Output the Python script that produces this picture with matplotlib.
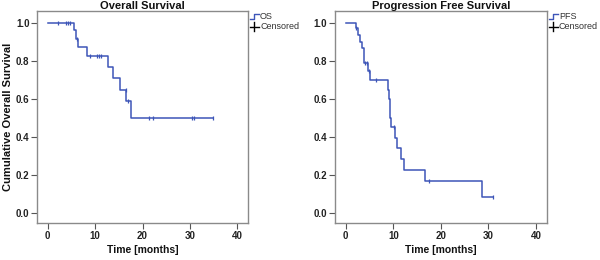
import matplotlib
matplotlib.use("Agg")
import matplotlib.pyplot as plt
import numpy as np

plt.rcParams['font.family'] = ['Liberation Sans', 'DejaVu Sans']

# ---- data ----
os_times = [0, 5.6, 5.9, 6.4, 8.3, 12.7, 13.8, 15.2, 16.6, 17.5]
os_surv = [1.0, 0.965, 0.917, 0.874, 0.829, 0.772, 0.711, 0.649, 0.593, 0.503]
os_end = 34.9
os_cens_t = [2.2, 3.8, 4.3, 4.7, 6.2, 9.0, 10.4, 10.8, 11.2, 16.5, 16.95, 21.4, 22.3, 30.5, 30.9, 34.9]

pfs_times = [0, 2.1, 2.5, 2.9, 3.4, 3.9, 4.6, 5.1, 8.8, 9.0, 9.3, 9.5, 10.4, 10.8, 11.6, 12.3, 16.6, 28.7]
pfs_surv = [1.0, 0.974, 0.938, 0.903, 0.868, 0.793, 0.749, 0.70, 0.649, 0.602, 0.503, 0.453, 0.395,
            0.342, 0.284, 0.228, 0.172, 0.087]
pfs_end = 31.0
pfs_cens_t = [2.2, 4.0, 4.4, 4.9, 6.3, 10.2, 17.6, 31.0]

x_ticks = [0, 10, 20, 30, 40]
y_ticks = [0.0, 0.2, 0.4, 0.6, 0.8, 1.0]
titles = ["Overall Survival", "Progression Free Survival"]
legend_names = ["OS", "PFS"]
xlabel = "Time [months]"
ylabel = "Cumulative Overall Survival"

LINE = '#3d55b8'
FRAME = '#8a8a8a'

fig = plt.figure(figsize=(6, 2.6), dpi=100)
axes_pos = [[0.0617, 0.1412, 0.352, 0.8177], [0.5583, 0.1412, 0.3533, 0.8177]]

def surv_at(times, surv, t):
    idx = np.searchsorted(times, t, side='right') - 1
    return surv[max(idx, 0)]

datasets = [(os_times, os_surv, os_end, os_cens_t), (pfs_times, pfs_surv, pfs_end, pfs_cens_t)]
for i, (tt, ss, tend, ct) in enumerate(datasets):
    ax = fig.add_axes(axes_pos[i])
    xs = list(tt) + [tend]
    ys = list(ss) + [ss[-1]]
    ax.step(xs, ys, where='post', color=LINE, lw=1.1)
    cy = [surv_at(tt, ss, t) for t in ct]
    ax.plot(ct, cy, ls='none', marker='|', ms=3, mew=0.9, color=LINE)
    ax.set_xlim(-2.26, 42.3)
    ax.set_ylim(-0.053, 1.066)
    ax.set_xticks(x_ticks)
    ax.set_xticklabels([str(v) for v in x_ticks])
    ax.set_yticks(y_ticks)
    ax.set_yticklabels([f"{v:.1f}" for v in y_ticks])
    for sp in ax.spines.values():
        sp.set_color(FRAME)
        sp.set_linewidth(1.0)
    ax.tick_params(direction='out', length=4, width=0.8, color='#555555',
                   labelsize=7, pad=1.5)
    for lab in ax.get_xticklabels() + ax.get_yticklabels():
        lab.set_fontweight('bold')
        lab.set_color('#222222')
    ax.set_title(titles[i], fontsize=8, fontweight='bold', pad=1.5, color='#111111')
    ax.set_xlabel(xlabel, fontsize=7.5, fontweight='bold', labelpad=3, color='#111111')
    if i == 0:
        ax.set_ylabel(ylabel, fontsize=8, fontweight='bold', labelpad=2, color='#111111')

    # legend (drawn manually, outside right of axes)
    x0 = 1.008
    y_os = 0.972
    y_c = 0.925
    ax.plot([x0, x0 + 0.02, x0 + 0.02, x0 + 0.045], [y_os - 0.012, y_os - 0.012, y_os + 0.012, y_os + 0.012],
            transform=ax.transAxes, color=LINE, lw=1.0, clip_on=False)
    ax.text(x0 + 0.048, y_os, legend_names[i], transform=ax.transAxes, fontsize=6.5,
            va='center', ha='left', color='#333333')
    ax.plot([x0, x0 + 0.042], [y_c, y_c], transform=ax.transAxes, color='black', lw=1.0, clip_on=False)
    ax.plot([x0 + 0.021, x0 + 0.021], [y_c - 0.02, y_c + 0.02], transform=ax.transAxes, color='black',
            lw=1.0, clip_on=False)
    ax.text(x0 + 0.048, y_c, "Censored", transform=ax.transAxes, fontsize=6.5,
            va='center', ha='left', color='#333333')

fig.savefig('out.png', dpi=100)
